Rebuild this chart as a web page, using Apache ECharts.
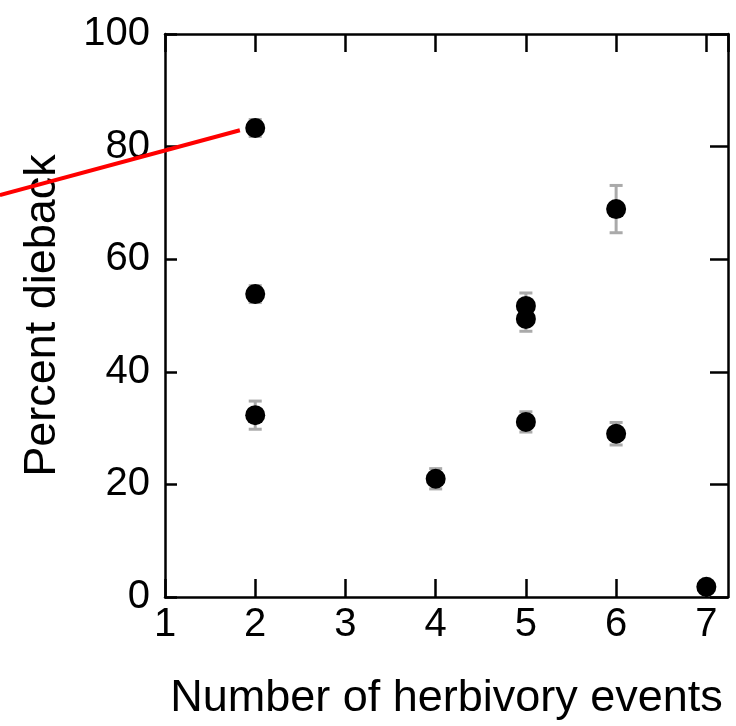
<!DOCTYPE html>
<html><head><meta charset="utf-8">
<script src="https://cdn.jsdelivr.net/npm/echarts@6/dist/echarts.min.js"></script>
<style>html,body{margin:0;padding:0;background:#fff}#c{width:736px;height:726px}</style>
</head><body><div id="c"></div>
<script>
var xValues = [2, 2, 2, 4, 5, 5, 5, 6, 6, 7];
var yValues = [83.3, 53.8, 32.3, 21.0, 51.7, 49.4, 31.1, 68.9, 29.0, 1.8];
var yErrors = [1.5, 1.5, 2.5, 1.8, 2.3, 2.2, 1.8, 4.2, 2.0, 0.5];
var xTicks = [1, 2, 3, 4, 5, 6, 7];
var yTicks = [0, 20, 40, 60, 80, 100];
var redLineX = [-0.83, 1.83];
var redLineY = [71.4, 82.9];

var points = xValues.map(function (x, i) { return [x, yValues[i]]; });
var errs = xValues.map(function (x, i) { return [x, yValues[i] - yErrors[i], yValues[i] + yErrors[i]]; });
var redLine = [[redLineX[0], redLineY[0], redLineX[1], redLineY[1]]];

var FONT = 'Liberation Sans, Arial, sans-serif';
var chart = echarts.init(document.getElementById('c'), null, {renderer: 'canvas'});
var axisLineStyle = {color: '#000', width: 2.5};
chart.setOption({
  animation: false,
  backgroundColor: '#fff',
  grid: {left: 165, right: 8, top: 34, bottom: 129, containLabel: false},
  xAxis: [{
    type: 'value', min: 1, max: 7.24, interval: 1, position: 'bottom',
    name: 'Number of herbivory events', nameLocation: 'middle', nameGap: 79,
    nameTextStyle: {fontFamily: FONT, fontSize: 45, color: '#000'},
    axisLine: {show: true, onZero: false, lineStyle: axisLineStyle},
    axisTick: {show: true, inside: true, length: 18, lineStyle: {color: '#000', width: 2.5}},
    axisLabel: {show: true, margin: 8, showMaxLabel: false, fontFamily: FONT, fontSize: 40, color: '#000',
      formatter: function (v) { return xTicks.indexOf(v) >= 0 ? String(v) : ''; }},
    splitLine: {show: false}
  }, {
    type: 'value', min: 1, max: 7.24, interval: 1, position: 'top',
    axisLine: {show: true, onZero: false, lineStyle: axisLineStyle},
    axisTick: {show: true, inside: true, length: 18, lineStyle: {color: '#000', width: 2.5}},
    axisLabel: {show: false}, splitLine: {show: false}
  }],
  yAxis: [{
    type: 'value', min: 0, max: 100, interval: 20, position: 'left',
    name: 'Percent dieback', nameLocation: 'middle', nameGap: 100,
    nameTextStyle: {fontFamily: FONT, fontSize: 45, color: '#000'},
    axisLine: {show: true, onZero: false, lineStyle: axisLineStyle},
    axisTick: {show: true, inside: true, length: 12, lineStyle: {color: '#000', width: 2.5}},
    axisLabel: {show: true, margin: 15, fontFamily: FONT, fontSize: 40, color: '#000',
      formatter: function (v) { return yTicks.indexOf(v) >= 0 ? String(v) : ''; }},
    splitLine: {show: false}
  }, {
    type: 'value', min: 0, max: 100, interval: 20, position: 'right',
    axisLine: {show: true, onZero: false, lineStyle: axisLineStyle},
    axisTick: {show: true, inside: true, length: 18, lineStyle: {color: '#000', width: 2.5}},
    axisLabel: {show: false}, splitLine: {show: false}
  }],
  series: [{
    type: 'custom',
    xAxisIndex: 0, yAxisIndex: 0,
    data: errs,
    z: 2,
    renderItem: function (params, api) {
      var x = api.value(0);
      var lo = api.coord([x, api.value(1)]);
      var hi = api.coord([x, api.value(2)]);
      var hw = 6.5;
      var st = {stroke: '#aaaaaa', lineWidth: 3};
      return {type: 'group', children: [
        {type: 'line', shape: {x1: lo[0], y1: lo[1], x2: hi[0], y2: hi[1]}, style: st},
        {type: 'line', shape: {x1: lo[0] - hw, y1: lo[1], x2: lo[0] + hw, y2: lo[1]}, style: st},
        {type: 'line', shape: {x1: hi[0] - hw, y1: hi[1], x2: hi[0] + hw, y2: hi[1]}, style: st}
      ]};
    }
  }, {
    type: 'scatter',
    xAxisIndex: 0, yAxisIndex: 0,
    data: points,
    symbol: 'circle', symbolSize: 20,
    itemStyle: {color: '#000', opacity: 1},
    z: 3
  }, {
    type: 'custom',
    xAxisIndex: 0, yAxisIndex: 0,
    data: redLine,
    clip: false,
    z: 4,
    renderItem: function (params, api) {
      var a = api.coord([api.value(0), api.value(1)]);
      var b = api.coord([api.value(2), api.value(3)]);
      return {type: 'line', shape: {x1: a[0], y1: a[1], x2: b[0], y2: b[1]},
        style: {stroke: '#ff0000', lineWidth: 4}};
    }
  }]
});
</script>
</body></html>
